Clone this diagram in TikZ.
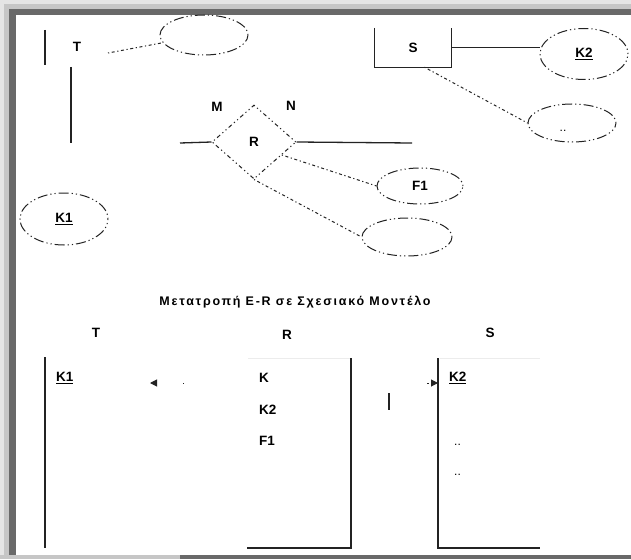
\documentclass[tikz,border=0pt]{standalone}
\usepackage{fontspec}
\setmainfont{Liberation Sans}
\usetikzlibrary{shapes.geometric, arrows.meta, positioning}
\definecolor{ink}{RGB}{35,35,35}
\definecolor{frameg}{RGB}{105,105,105}
\definecolor{faint}{RGB}{236,236,236}

\begin{document}
\begin{tikzpicture}[x=1pt, y=-1pt, font=\fontsize{13.5}{15}\selectfont\bfseries,
  attr/.style={ellipse, draw=ink, line width=1pt,
               dash pattern=on 1.2pt off 3pt on 1.2pt off 3pt on 10pt off 3pt,
               minimum width=88pt, minimum height=40pt, inner sep=0pt},
  rel/.style={diamond, draw=ink, line width=1pt,
              dash pattern=on 1.2pt off 3pt on 1.2pt off 3pt on 4pt off 3pt,
              minimum width=84pt, minimum height=74pt, inner sep=0pt},
  lab/.style={inner sep=1pt},
  dots/.style={inner sep=1pt, font=\fontsize{12}{14}\selectfont},
  ln/.style={ink, line width=1.3pt},
  dl/.style={ink, line width=1pt, dash pattern=on 1.2pt off 2.6pt on 3pt off 2.6pt},
  fk/.style={ink, line width=1pt, dash pattern=on 1.5pt off 40pt,
             -{Triangle[length=7pt, width=7pt]}}]
  \useasboundingbox (0,0) rectangle (631,559);
  % frame with shadow
  \fill[gray!20] (0,0) rectangle (631,559);
  \fill[gray!45] (4,4) rectangle (631,559);
  \fill[frameg] (9,9) rectangle (631,559);
  \fill[gray!45] (0,555) rectangle (180,559);
  \fill[white] (16,15) rectangle (631,555);

  % E-R diagram
  \draw[ln] (45,30) -- (45,65);
  \node[lab] (t) at (77,47) {T};
  \draw[ln] (71,67) -- (71,143);
  \coordinate (tr) at (108,53);
  \node[attr] (a1) at (204,35) {};
  \draw[dl] (tr) -- (a1);
  \node[attr, minimum height=52pt] (k1) at (64,219) {\underline{K1}};

  \node[rel] (r) at (254,142) {R};
  \node[lab] (m) at (217,107) {M};
  \node[lab] (n) at (291,106) {N};
  \coordinate (rl) at (180,143);
  \coordinate (rr) at (412,143);
  \draw[ln] (rl) -- (r.west);
  \draw[ln] (r.east) -- (rr);
  \node[attr, minimum width=86pt, minimum height=36pt] (f1) at (420,186) {F1};
  \node[attr, minimum width=90pt, minimum height=38pt] (a2) at (407,237) {};
  \draw[dl] (r.-25) -- (f1.west);
  \draw[dl] (r.south) -- (a2.west);

  \node[minimum width=77pt, minimum height=39pt, inner sep=0pt] (s) at (413,47.5) {S};
  \draw[ln] (s.north west) -- (s.south west) -- (s.south east) -- (s.north east);
  \node[attr, minimum height=51pt] (k2) at (584,54) {\underline{K2}};
  \draw[ln] (s.east) -- (k2.west |- s.east);
  \node[attr, minimum height=38pt] (dd) at (572,123) {};
  \node[dots] (ddl) at (563,131) {..};
  \draw[dl] (s.-60) -- (dd.west);

  % relational schema
  \node[lab, font=\fontsize{12.5}{14}\selectfont\bfseries\addfontfeature{LetterSpace=14}] (title)
    at (295,302) {Μετατροπή E-R σε Σχεσιακό Μοντέλο};
  \node[lab] (tt) at (96,333) {T};
  \node[lab] (rt) at (287,335) {R};
  \node[lab] (st) at (490,333) {S};

  \draw[ln] (45,357) -- (45,548);
  \draw[faint, line width=1pt] (248,358) -- (351,358);
  \draw[ln] (351,358) -- (351,548) -- (247,548);
  \draw[faint, line width=1pt] (440,358) -- (540,358);
  \draw[ln] (438,358) -- (438,548) -- (540,548);

  \node[lab, anchor=west] (tk1) at (55,378) {\underline{K1}};
  \node[lab, anchor=west] (rk) at (258,378) {K};
  \node[lab, anchor=west] (rk2) at (258,410) {K2};
  \node[lab, anchor=west] (rf1) at (258,441) {F1};
  \node[lab, anchor=west] (sk2) at (448,378) {\underline{K2}};
  \node[dots, anchor=west] (sd1) at (453,445) {..};
  \node[dots, anchor=west] (sd2) at (453,475) {..};

  \coordinate (fa) at (184,383);
  \coordinate (fb) at (150,383);
  \draw[fk] (fa) -- (fb);
  \coordinate (ga) at (427,383);
  \coordinate (gb) at (438,383);
  \draw[fk] (ga) -- (gb);
  \draw[ln] (389,393) -- (389,410);
\end{tikzpicture}
\end{document}
